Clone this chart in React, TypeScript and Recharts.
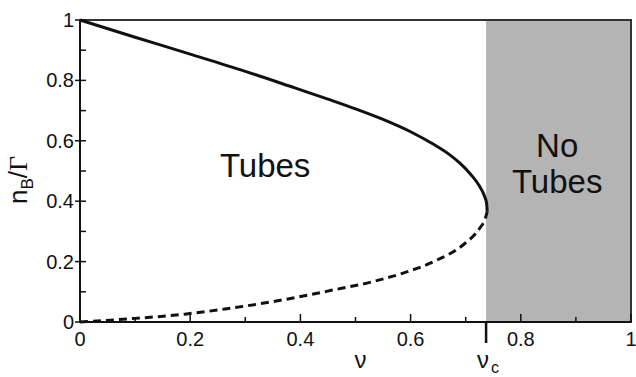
import { LineChart, Line, XAxis, YAxis, ReferenceArea, ReferenceDot } from 'recharts';

const NU_C = 0.737;

// upper (stable) branch
const upperBranch = [
  { v: 0, n: 1 },
  { v: 0.1, n: 0.943 },
  { v: 0.2, n: 0.887 },
  { v: 0.3, n: 0.83 },
  { v: 0.39, n: 0.775 },
  { v: 0.45, n: 0.738 },
  { v: 0.5, n: 0.706 },
  { v: 0.55, n: 0.671 },
  { v: 0.6, n: 0.63 },
  { v: 0.64, n: 0.59 },
  { v: 0.67, n: 0.555 },
  { v: 0.69, n: 0.525 },
  { v: 0.71, n: 0.487 },
  { v: 0.725, n: 0.45 },
  { v: 0.734, n: 0.417 },
  { v: 0.738, n: 0.392 },
  { v: 0.739, n: 0.365 },
];

// lower (unstable) branch
const lowerBranch = [
  { v: 0, n: 0 },
  { v: 0.1, n: 0.012 },
  { v: 0.19, n: 0.026 },
  { v: 0.263, n: 0.043 },
  { v: 0.37, n: 0.074 },
  { v: 0.454, n: 0.104 },
  { v: 0.532, n: 0.134 },
  { v: 0.593, n: 0.166 },
  { v: 0.648, n: 0.205 },
  { v: 0.695, n: 0.255 },
  { v: 0.726, n: 0.312 },
  { v: 0.735, n: 0.34 },
  { v: 0.739, n: 0.365 },
];

const xTicks = [0, 0.1, 0.2, 0.3, 0.4, 0.5, 0.6, 0.7, NU_C, 0.8, 0.9, 1];
const yTicks = [0, 0.1, 0.2, 0.3, 0.4, 0.5, 0.6, 0.7, 0.8, 0.9, 1];

const INK = '#111';
const FONT = '"Liberation Sans", Arial, sans-serif';

const fmt = (v: number) => (v === 0 ? '0' : v === 1 ? '1' : v.toFixed(1));
const isMajor = (v: number) => Math.round(v * 10) % 2 === 0;

function XTick(props: any) {
  const { x, y, payload } = props;
  const v = payload.value;
  if (v === NU_C) {
    return (
      <g>
        <line x1={x} y1={y} x2={x} y2={y + 21} stroke={INK} strokeWidth={2.5} />
        <text x={x - 3} y={y + 46} textAnchor="middle" fontSize={24} fontFamily={FONT} fill={INK}>
          ν
        </text>
        <text x={x + 9} y={y + 51} textAnchor="middle" fontSize={16} fontFamily={FONT} fill={INK}>
          c
        </text>
      </g>
    );
  }
  const major = isMajor(v);
  return (
    <g>
      <line x1={x} y1={y} x2={x} y2={y - (major ? 8 : 5)} stroke={INK} strokeWidth={1.5} />
      {major && (
        <text x={x} y={y + 24} textAnchor="middle" fontSize={20} fontFamily={FONT} fill={INK}>
          {fmt(v)}
        </text>
      )}
    </g>
  );
}

function YTick(props: any) {
  const { x, y, payload } = props;
  const v = payload.value;
  const major = isMajor(v);
  return (
    <g>
      <line x1={major ? x - 5 : x} y1={y} x2={x + 6} y2={y} stroke={INK} strokeWidth={1.5} />
      {major && (
        <text x={x - 6} y={y + 7} textAnchor="end" fontSize={20} fontFamily={FONT} fill={INK}>
          {fmt(v)}
        </text>
      )}
    </g>
  );
}

function XLabel(props: any) {
  const { viewBox } = props;
  return (
    <text x={viewBox.x + viewBox.width / 2 + 5} y={viewBox.y + 46} textAnchor="middle" fontSize={24} fontFamily={FONT} fill={INK}>
      ν
    </text>
  );
}

function YLabel(props: any) {
  const { viewBox } = props;
  const cx = viewBox.x + 27;
  const cy = viewBox.y + viewBox.height / 2 + 9;
  return (
    <text
      x={cx}
      y={cy}
      transform={`rotate(-90 ${cx} ${cy})`}
      textAnchor="middle"
      fontSize={26}
      fontFamily={FONT}
      fill={INK}
    >
      n
      <tspan fontSize={17} dy={6}>B</tspan>
      <tspan dy={-6}>/</tspan>
      <tspan fontFamily='"Liberation Serif", serif'>Γ</tspan>
    </text>
  );
}

const RegionText = ({ cx, cy, lines }: any) => (
  <text x={cx} y={cy} textAnchor="middle" fontSize={33} fontFamily={FONT} fill={INK}>
    {lines.map((s: string, i: number) => (
      <tspan key={s} x={cx} dy={i === 0 ? 0 : 36}>
        {s}
      </tspan>
    ))}
  </text>
);

export default function App() {
  return (
    <div style={{ width: 636, height: 377, background: '#fff' }}>
      <style>{'body{margin:0}'}</style>
      <LineChart width={636} height={377} margin={{ top: 20, right: 5, left: 0, bottom: 0 }}>
        <XAxis
          type="number"
          dataKey="v"
          domain={[0, 1]}
          ticks={xTicks}
          interval={0}
          tickSize={0}
          tickMargin={0}
          tick={<XTick />}
          height={55}
          axisLine={{ stroke: INK, strokeWidth: 2 }}
          label={<XLabel />}
        />
        <YAxis
          type="number"
          dataKey="n"
          domain={[0, 1]}
          ticks={yTicks}
          interval={0}
          tickSize={0}
          tickMargin={0}
          tick={<YTick />}
          width={80}
          axisLine={{ stroke: INK, strokeWidth: 2 }}
          label={<YLabel />}
        />
        <ReferenceArea x1={NU_C} x2={1} y1={0} y2={1} fill="#b4b4b4" fillOpacity={1} stroke="none" />
        <Line
          data={upperBranch}
          dataKey="n"
          type="monotone"
          stroke={INK}
          strokeWidth={3}
          dot={false}
          isAnimationActive={false}
        />
        <Line
          data={lowerBranch}
          dataKey="n"
          type="monotone"
          stroke={INK}
          strokeWidth={3}
          strokeDasharray="8 5"
          dot={false}
          isAnimationActive={false}
        />
        <ReferenceDot
          x={0.336}
          y={0.48}
          r={0}
          shape={(p: any) => <RegionText cx={p.cx} cy={p.cy} lines={['Tubes']} />}
        />
        <ReferenceDot
          x={0.866}
          y={0.546}
          r={0}
          shape={(p: any) => <RegionText cx={p.cx} cy={p.cy} lines={['No', 'Tubes']} />}
        />
        <ReferenceArea x1={0} x2={1} y1={0} y2={1} fill="none" stroke="#333" strokeWidth={2} />
      </LineChart>
    </div>
  );
}
